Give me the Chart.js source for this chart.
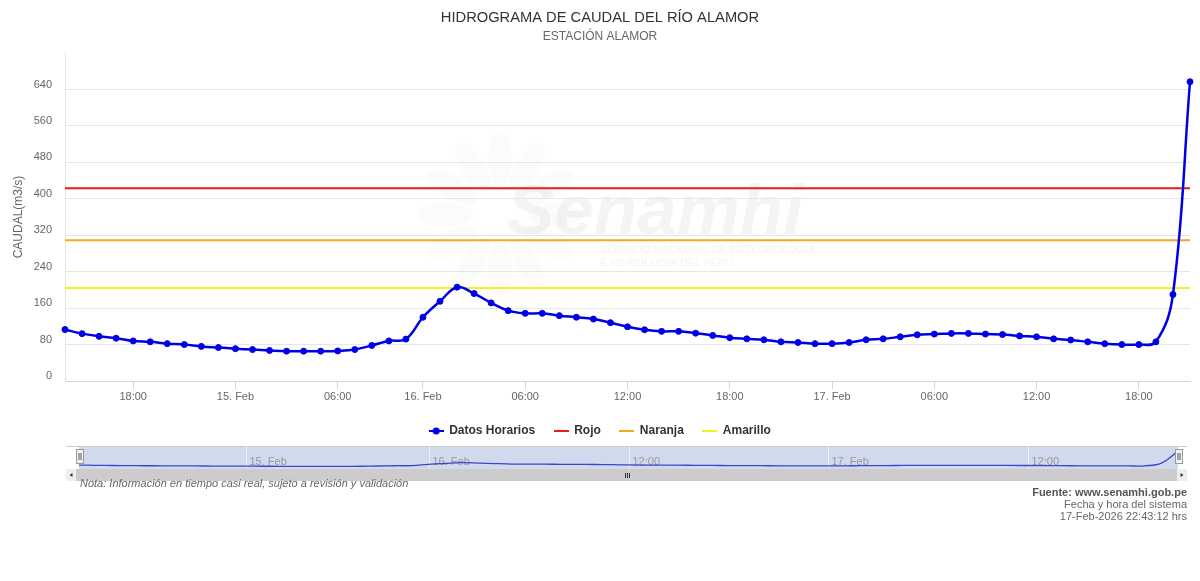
<!DOCTYPE html>
<html lang="es">
<head>
<meta charset="utf-8">
<title>Hidrograma de caudal del río Alamor</title>
<script src="https://cdn.jsdelivr.net/npm/chart.js@4.4.1/dist/chart.umd.min.js"></script>
<style>
  html, body { margin: 0; padding: 0; background: #fff; }
  body { width: 1200px; height: 581px; position: relative; overflow: hidden; font-family: "Liberation Sans", Arial, sans-serif; }
  #grafico { position: absolute; left: 0; top: 0; }
  #navegador { position: absolute; left: 0; top: 440px; }
  .nota { position: absolute; left: 80px; top: 477px; font-size: 11px; font-style: italic; color: #666; }
  .fuente { position: absolute; right: 13px; top: 486px; text-align: right; font-size: 11px; line-height: 12px; color: #666; }
  .fuente b { color: #555; }
</style>
</head>
<body>
<canvas id="grafico" width="1200" height="447"></canvas>
<canvas id="navegador" width="1200" height="50"></canvas>
<div class="nota">Nota: Información en tiempo casi real, sujeto a revisión y validación</div>
<div class="fuente"><b>Fuente: www.senamhi.gob.pe</b><br>Fecha y hora del sistema<br>17-Feb-2026 22:43:12 hrs</div>
<script>
// horas de lectura (eje ordinal, como en el gráfico original)
const horas = [
  '14/02 14:00', '14/02 15:00', '14/02 16:00', '14/02 17:00', '14/02 18:00',
  '14/02 19:00', '14/02 20:00', '14/02 21:00', '14/02 22:00', '14/02 23:00',
  '15/02 00:00', '15/02 01:00', '15/02 02:00', '15/02 03:00', '15/02 04:00',
  '15/02 05:00', '15/02 06:00', '15/02 07:00', '15/02 08:00', '15/02 09:00',
  '15/02 10:00',
  '16/02 00:00', '16/02 01:00', '16/02 02:00', '16/02 03:00', '16/02 04:00',
  '16/02 05:00', '16/02 06:00', '16/02 07:00', '16/02 08:00', '16/02 09:00',
  '16/02 10:00', '16/02 11:00', '16/02 12:00', '16/02 13:00', '16/02 14:00',
  '16/02 15:00', '16/02 16:00', '16/02 17:00', '16/02 18:00', '16/02 19:00',
  '16/02 20:00', '16/02 21:00', '16/02 22:00', '16/02 23:00',
  '17/02 00:00', '17/02 01:00', '17/02 02:00', '17/02 03:00', '17/02 04:00',
  '17/02 05:00', '17/02 06:00', '17/02 07:00', '17/02 08:00', '17/02 09:00',
  '17/02 10:00', '17/02 11:00', '17/02 12:00', '17/02 13:00', '17/02 14:00',
  '17/02 15:00', '17/02 16:00', '17/02 17:00', '17/02 18:00', '17/02 19:00',
  '17/02 20:00', '17/02 21:00'
];

// caudal horario (m3/s)
const caudal = [
  113, 104, 98, 94, 88, 86, 82, 80, 76, 73.5,
  71, 69, 67, 65.5, 65.5, 65.5, 66, 69, 78, 88,
  92,
  140, 175, 206, 192, 171.5, 154.5, 148.5, 148.5, 143.5, 140,
  136, 128, 119, 112.5, 109, 109, 105, 100, 95, 92.5,
  90.5, 86, 84.5,
  82, 82, 84.5, 90.5, 92.5, 97, 101.5, 103, 104.5, 104.5,
  103, 102, 99, 97, 92.5, 90, 86, 82, 80, 80,
  86, 190, 657
];

// umbrales de alerta
const umbralRojo = 423;
const umbralNaranja = 309;
const umbralAmarillo = 204;

const marcasEje = ['06', '12', '18'];
const marcasNav = ['12'];

Chart.defaults.font.family = '"Liberation Sans", Arial, sans-serif';

function etiqueta(txt, marcas) {
  const [fecha, hora] = txt.split(' ');
  const hh = hora.slice(0, 2);
  if (hh === '00') return Number(fecha.slice(0, 2)) + '. Feb';
  return marcas.includes(hh) ? hora : '';
}

function simbolo(color, conPunto) {
  const c = document.createElement('canvas');
  c.width = 15; c.height = 10;
  const g = c.getContext('2d');
  g.strokeStyle = color; g.lineWidth = 2;
  g.beginPath(); g.moveTo(0, 5); g.lineTo(15, 5); g.stroke();
  if (conPunto) {
    g.fillStyle = color;
    g.beginPath(); g.arc(7.5, 5, 3.5, 0, Math.PI * 2); g.fill();
  }
  return c;
}

function tramo(valor) {
  return [{ x: horas[0], y: valor }, { x: horas[horas.length - 1], y: valor }];
}

const marcaAgua = {
  id: 'marcaAgua',
  beforeDraw(chart) {
    const { ctx } = chart;
    ctx.save();
    ctx.fillStyle = 'rgba(0,0,0,0.016)';
    // sol estilizado
    for (let k = 0; k < 12; k++) {
      const a = k * Math.PI / 6;
      ctx.beginPath();
      ctx.ellipse(500 + Math.cos(a) * 55, 215 + Math.sin(a) * 55, 28, 12, a, 0, Math.PI * 2);
      ctx.fill();
    }
    ctx.fillStyle = 'rgba(0,0,0,0.045)';
    ctx.font = 'italic bold 70px "Liberation Sans", Arial, sans-serif';
    const w = ctx.measureText('Senamhi').width;
    ctx.font = 'italic bold ' + (70 * 296 / w).toFixed(1) + 'px "Liberation Sans", Arial, sans-serif';
    ctx.textBaseline = 'alphabetic';
    ctx.fillText('Senamhi', 507, 234);
    ctx.fillStyle = 'rgba(0,0,0,0.035)';
    ctx.font = 'italic bold 10.5px "Liberation Sans", Arial, sans-serif';
    ctx.fillText('SERVICIO NACIONAL DE METEOROLOGÍA', 600, 253);
    ctx.fillText('E HIDROLOGÍA DEL PERÚ', 600, 266);
    ctx.restore();
  }
};

new Chart(document.getElementById('grafico'), {
  type: 'line',
  data: {
    labels: horas,
    datasets: [
      {
        label: 'Datos Horarios',
        data: caudal,
        borderColor: '#0000e6',
        backgroundColor: '#0000e6',
        borderWidth: 2.5,
        pointRadius: 3,
        pointBorderWidth: 1,
        tension: 0.4
      },
      { label: 'Rojo', data: tramo(umbralRojo), borderColor: '#f01919', borderWidth: 2, pointRadius: 0 },
      { label: 'Naranja', data: tramo(umbralNaranja), borderColor: '#f5a623', borderWidth: 2, pointRadius: 0 },
      { label: 'Amarillo', data: tramo(umbralAmarillo), borderColor: '#f2f21a', borderWidth: 2, pointRadius: 0 }
    ]
  },
  options: {
    responsive: false,
    animation: false,
    events: [],
    layout: { padding: 0 },
    plugins: {
      title: {
        display: true,
        text: 'HIDROGRAMA DE CAUDAL DEL RÍO ALAMOR',
        color: '#333',
        font: { size: 14.7, weight: 'normal' },
        padding: { top: 9, bottom: 2 }
      },
      subtitle: {
        display: true,
        text: 'ESTACIÓN ALAMOR',
        color: '#666',
        font: { size: 12 },
        padding: { top: 1, bottom: 9 }
      },
      legend: {
        position: 'bottom',
        labels: {
          usePointStyle: true,
          pointStyleWidth: 14,
          boxHeight: 10,
          padding: 19,
          color: '#333',
          font: { size: 12, weight: 'bold' },
          generateLabels: (chart) => {
            const items = Chart.defaults.plugins.legend.labels.generateLabels(chart);
            items.forEach((it, i) => {
              it.pointStyle = simbolo(chart.data.datasets[i].borderColor, i === 0);
            });
            return items;
          }
        }
      },
      tooltip: { enabled: false }
    },
    scales: {
      x: {
        type: 'category',
        offset: false,
        border: { color: '#ccd6eb' },
        grid: {
          drawOnChartArea: false,
          tickLength: 8,
          color: (c) => (c.tick && c.tick.label ? '#ccd6eb' : 'rgba(0,0,0,0)')
        },
        ticks: {
          autoSkip: false,
          maxRotation: 0,
          padding: 1,
          color: '#666',
          font: { size: 11 },
          callback: (v, i) => etiqueta(horas[i], marcasEje)
        },
        afterFit: (s) => { s.height = 25; }
      },
      y: {
        min: 0,
        max: 720,
        border: { color: '#e6e6e6' },
        grid: { color: '#e6e6e6', drawTicks: false },
        ticks: {
          stepSize: 80,
          padding: 13,
          labelOffset: -5,
          color: '#666',
          font: { size: 11 },
          callback: (v) => (v === 720 ? null : v)
        },
        title: {
          display: true,
          text: 'CAUDAL(m3/s)',
          color: '#666',
          font: { size: 12 },
          padding: { top: 11, bottom: 0 }
        },
        afterFit: (s) => { s.width = 65; }
      },
      // margen derecho vacío (mantiene la leyenda centrada en el lienzo)
      margen: {
        type: 'linear',
        position: 'right',
        grid: { display: false },
        border: { display: false },
        ticks: { display: false },
        afterFit: (s) => { s.width = 10; }
      }
    }
  },
  plugins: [marcaAgua]
});

// navegador inferior (estilo Highstock)
const decorNav = {
  id: 'decorNav',
  beforeDatasetsDraw(chart) {
    const { ctx, chartArea: a, scales: { x } } = chart;
    ctx.save();
    ctx.fillStyle = 'rgba(102,133,194,0.3)';
    ctx.fillRect(a.left, 6, a.right - a.left, 23);
    ctx.strokeStyle = '#cccccc';
    ctx.lineWidth = 1;
    ctx.beginPath(); ctx.moveTo(66, 6.5); ctx.lineTo(1187, 6.5); ctx.stroke();
    ctx.font = '11px "Liberation Sans", Arial, sans-serif';
    ctx.textBaseline = 'middle';
    horas.forEach((h, i) => {
      const txt = etiqueta(h, marcasNav);
      if (!txt) return;
      const px = Math.round(x.getPixelForValue(i)) + 0.5;
      ctx.strokeStyle = 'rgba(255,255,255,0.55)';
      ctx.beginPath(); ctx.moveTo(px, 6); ctx.lineTo(px, 29); ctx.stroke();
      ctx.fillStyle = '#999';
      ctx.fillText(txt, px + 3, 22);
    });
    ctx.restore();
  },
  afterDraw(chart) {
    const { ctx, chartArea: a } = chart;
    ctx.save();
    // barra de desplazamiento
    ctx.fillStyle = '#cccccc';
    ctx.fillRect(66, 29, 1121, 12);
    [[66, -1], [1177, 1]].forEach(([bx, dir]) => {
      ctx.fillStyle = '#eeeeee';
      ctx.fillRect(bx, 29, 10, 12);
      ctx.fillStyle = '#333';
      const cx = bx + 5;
      ctx.beginPath();
      ctx.moveTo(cx + dir * 1.5, 35);
      ctx.lineTo(cx - dir * 1.5, 33);
      ctx.lineTo(cx - dir * 1.5, 37);
      ctx.closePath(); ctx.fill();
    });
    ctx.strokeStyle = '#333';
    ctx.lineWidth = 1;
    const mid = Math.round((66 + 1187) / 2);
    [-2, 0, 2].forEach((d) => {
      ctx.beginPath(); ctx.moveTo(mid + d + 0.5, 33); ctx.lineTo(mid + d + 0.5, 38); ctx.stroke();
    });
    // asas
    [a.left, a.right].forEach((hx) => {
      const x0 = Math.round(hx - 3.5) + 0.5;
      ctx.fillStyle = '#f2f2f2';
      ctx.strokeStyle = '#999';
      ctx.fillRect(x0, 9.5, 7, 14);
      ctx.strokeRect(x0, 9.5, 7, 14);
      ctx.strokeStyle = '#555';
      ctx.beginPath();
      ctx.moveTo(x0 + 2.5, 13); ctx.lineTo(x0 + 2.5, 20);
      ctx.moveTo(x0 + 4.5, 13); ctx.lineTo(x0 + 4.5, 20);
      ctx.stroke();
    });
    ctx.restore();
  }
};

new Chart(document.getElementById('navegador'), {
  type: 'line',
  data: {
    labels: horas,
    datasets: [{ data: caudal, borderColor: '#3a48c8', borderWidth: 1.3, pointRadius: 0, tension: 0.4, fill: false }]
  },
  options: {
    responsive: false,
    animation: false,
    events: [],
    layout: { padding: { left: 79, right: 22, top: 10, bottom: 22 } },
    scales: {
      x: { display: false, offset: false },
      y: { display: false, min: 0, max: 700 }
    },
    plugins: { legend: { display: false }, tooltip: { enabled: false } }
  },
  plugins: [decorNav]
});
</script>
</body>
</html>
